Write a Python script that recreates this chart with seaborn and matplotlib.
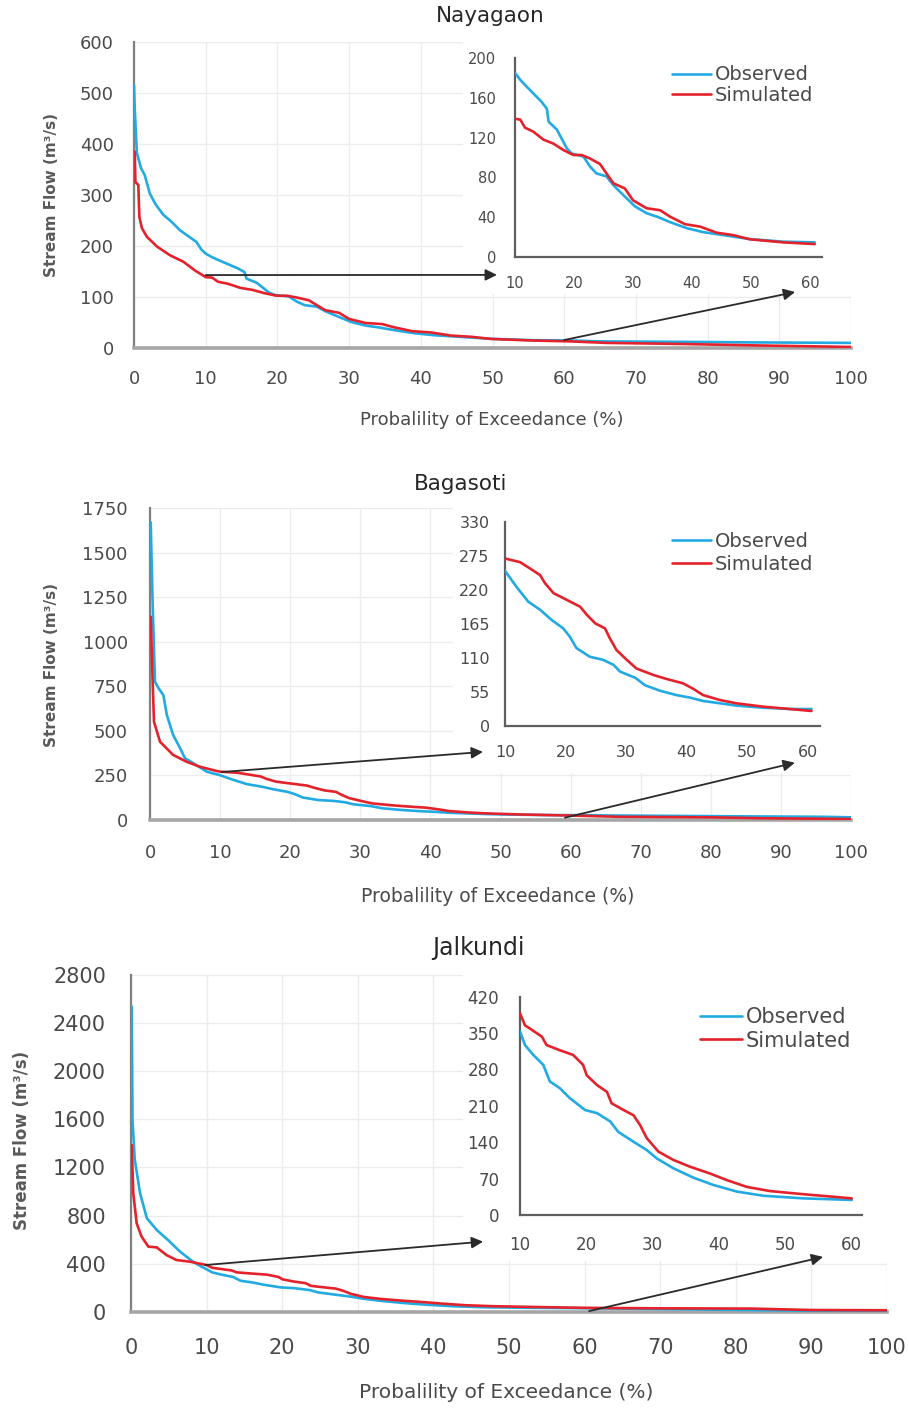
import numpy as np
import pandas as pd
import matplotlib
matplotlib.use("Agg")
import matplotlib.pyplot as plt
import seaborn as sns
from matplotlib.patches import Rectangle

# ---------------- data ----------------
stations = ["Nayagaon", "Bagasoti", "Jalkundi"]
series_names = ["Observed", "Simulated"]

nay_obs_x = [0, 0.1, 0.4, 1.0, 1.5, 2.2, 3.0, 4.1, 5.2, 6.4, 7.5, 8.7, 9.4, 10, 10.9, 12.5, 14.5, 15.4, 15.7,
             17.1, 18.8, 19.6, 21.6, 22.7, 23.8, 25.5, 26.7, 28.4, 30.3, 32.3, 34.3, 36.3, 39.1, 41.9, 45.3,
             49.8, 55.5, 60.8, 65, 77, 86, 100]
nay_obs_y = [515, 470, 382, 352, 339, 303, 282, 261, 248, 231, 220, 208, 193, 185, 178, 168, 156, 149, 136,
             128, 109, 104, 101, 91, 84, 81, 72, 62, 51, 44, 40, 35, 29, 25, 22,
             18, 15.4, 14.7, 13, 12, 11, 10]
nay_sim_x = [0.1, 0.2, 0.6, 0.75, 1.1, 1.8, 3.2, 5.0, 6.9, 8.5, 10, 10.9, 11.7, 13.1, 14.8, 16.5, 18.2, 19.9,
             21.3, 22.7, 24.4, 25.5, 26.7, 28.6, 30.0, 32.3, 34.6, 36.3, 38.8, 41.4, 44.2, 47.0, 49.8, 55.5,
             60.8, 66, 76, 87, 96, 100]
nay_sim_y = [385, 325, 320, 257, 235, 218, 199, 182, 169, 152, 139, 138, 130, 126, 118, 114, 107.5, 102.5,
             102.5, 99, 93.5, 84, 74, 69, 57, 49, 47, 40.5, 33, 30.5, 24.4, 22, 17.8, 14.7,
             13, 10, 8, 5, 3, 2]

bag_obs_x = [0.1, 0.38, 0.71, 1.2, 1.9, 2.4, 3.3, 4.3, 5.0, 6.2, 8.1, 10, 11.9, 13.85, 15.8, 17.7, 19.6, 20.7,
             21.8, 24.0, 26.2, 27.9, 29.0, 31.5, 33.1, 35.6, 38.3, 40.5, 42.7, 45.5, 48.2, 52.6, 57.0, 60.6,
             67, 79, 86, 96, 100]
bag_obs_y = [1670, 1206, 776, 740, 701, 589, 477, 402, 346, 318, 271, 251, 225, 201, 188, 171.5, 158, 144.5,
             126, 112, 107, 99, 88, 78, 66, 57, 50, 46, 40.5, 36.7, 33, 29.6, 27.5, 27.5,
             25, 22, 20, 18, 15]
bag_sim_x = [0.1, 0.38, 0.57, 1.43, 3.3, 5.2, 7.1, 9.5, 10, 12.5, 14.1, 15.8, 16.6, 18.0, 20.2, 22.4, 23.5,
             24.9, 26.5, 27.3, 28.4, 30.1, 31.7, 34.5, 36.7, 39.4, 41.1, 42.7, 45.5, 48.2, 52.6, 57.0, 60.6,
             67, 80, 87, 96, 100]
bag_sim_y = [1140, 776, 551, 439, 365, 327, 299, 275, 271, 265, 255, 244, 231, 215, 204, 193, 180,
             166, 158, 142, 123, 107, 93, 82.5, 76, 69, 60, 50, 42, 36.7, 31.3, 27.5, 24.3,
             18, 15, 10, 7, 5]

jal_obs_x = [0.1, 0.2, 0.5, 1.2, 2.1, 3.4, 4.9, 6.5, 8.2, 9.3, 10, 10.75, 12.0, 13.5, 14.5, 16.0, 17.5, 19.8,
             21.6, 23.6, 24.8, 27.1, 29.1, 30.6, 33.1, 36.1, 39.1, 42.7, 46.7, 52.7, 60.0, 70, 80, 90, 100]
jal_obs_y = [2536, 1594, 1262, 985, 777, 680, 596, 499, 416, 375, 353, 327, 308, 289, 257, 244, 225, 202,
             196, 180, 160, 141, 125, 109, 90, 72, 58, 45, 37, 32, 29, 22, 15, 8, 5]
jal_sim_x = [0.1, 0.3, 0.75, 1.4, 2.3, 3.4, 4.7, 6.0, 7.8, 10, 10.75, 12.5, 13.3, 14.0, 16.0, 18.0, 19.5,
             20.05, 21.6, 23.1, 23.8, 25.6, 27.1, 28.1, 29.1, 30.85, 33.1, 35.6, 38.6, 41.2, 44.2, 47.7,
             52.7, 60.0, 70, 82, 90, 100]
jal_sim_y = [1386, 985, 735, 624, 541, 535, 471, 430, 416, 388, 365, 350, 343, 327, 317, 308, 289,
             269, 250, 237, 215, 202, 192, 173, 148, 122, 106, 93, 80, 67, 54, 46,
             40, 32, 28, 26, 14, 12]

main_xticks = [0, 10, 20, 30, 40, 50, 60, 70, 80, 90, 100]
inset_xticks = [10, 20, 30, 40, 50, 60]
main_yticks = [[0, 100, 200, 300, 400, 500, 600],
               [0, 250, 500, 750, 1000, 1250, 1500, 1750],
               [0, 400, 800, 1200, 1600, 2000, 2400, 2800]]
inset_yticks = [[0, 40, 80, 120, 160, 200],
                [0, 55, 110, 165, 220, 275, 330],
                [0, 70, 140, 210, 280, 350, 420]]

data = [
    (nay_obs_x, nay_obs_y, nay_sim_x, nay_sim_y),
    (bag_obs_x, bag_obs_y, bag_sim_x, bag_sim_y),
    (jal_obs_x, jal_obs_y, jal_sim_x, jal_sim_y),
]

# ---------------- style / layout ----------------
sns.set_theme(style="white")
plt.rcParams['font.family'] = ['DejaVu Sans']

W, H = 909, 1408
fig = plt.figure(figsize=(W / 100, H / 100), dpi=100)


def fx(px):
    return px / W


def fy(py):
    return 1 - py / H


BLUE = "#22aae2"
RED = "#e4222b"
TXT = "#4a4a4a"

layout = [
    dict(main=(134, 42, 851, 348), inset=(515, 58, 821.8, 257), ixmax=62,
         title=(490, 16), tfs=15.5, xlab=(492, 420), xfs=13, ylab=(52, 195), yfs=11,
         tick_fs=13, ypad=14.5, xpad=16, itick_fs=10.5, iypad=13.5, ixpad=13.5,
         leg=(672, 65.5), lfs=14, lsp=0.07,
         rect=(0.459, 0.175),
         arr1=((10, 143), (-0.059, -0.09)), arr2=((60, 15.7), (0.913, -0.176))),
    dict(main=(150, 508, 851, 820), inset=(505, 522, 820, 726), ixmax=62,
         title=(461, 484), tfs=15.5, xlab=(498, 897), xfs=13.5, ylab=(52, 665), yfs=11,
         tick_fs=13, ypad=16, xpad=17, itick_fs=11.5, iypad=11, ixpad=13.5,
         leg=(672, 532), lfs=14, lsp=0.22,
         rect=(0.432, 0.15),
         arr1=((10.2, 269), (-0.07, -0.127)), arr2=((59.2, 13), (0.92, -0.18))),
    dict(main=(131, 975, 887, 1311.7), inset=(520, 996.7, 861.7, 1215), ixmax=61.5,
         title=(478, 948), tfs=17, xlab=(506, 1393), xfs=14.5, ylab=(22, 1140), yfs=12,
         tick_fs=15, ypad=18, xpad=19, itick_fs=12, iypad=15, ixpad=15,
         leg=(700, 1007), lfs=15, lsp=0.17,
         rect=(0.439, 0.15),
         arr1=((9.8, 388), (-0.108, -0.122)), arr2=((60.6, 5), (0.887, -0.192))),
]

for i, (cfg, (ox, oy, sx, sy)) in enumerate(zip(layout, data)):
    l, t, r, b = cfg["main"]
    ax = fig.add_axes([fx(l), fy(b), fx(r) - fx(l), fy(t) - fy(b)])
    df = pd.concat([
        pd.DataFrame({"x": ox, "y": oy, "s": series_names[0]}),
        pd.DataFrame({"x": sx, "y": sy, "s": series_names[1]}),
    ])
    sns.lineplot(data=df, x="x", y="y", hue="s", palette=[BLUE, RED], estimator=None,
                 sort=False, lw=1.9, ax=ax, legend=False, zorder=3)
    yt = main_yticks[i]
    ax.set_xlim(0, 100)
    ax.set_ylim(0, yt[-1])
    ax.set_xticks(main_xticks)
    ax.set_yticks(yt)
    ax.set_xlabel("")
    ax.set_ylabel("")
    ax.grid(True, color="#ececec", lw=1)
    ax.set_axisbelow(True)
    ax.tick_params(length=0, labelsize=cfg["tick_fs"], colors=TXT)
    ax.tick_params(axis="y", pad=cfg["ypad"])
    ax.tick_params(axis="x", pad=cfg["xpad"])
    for s in ["top", "right"]:
        ax.spines[s].set_visible(False)
    ax.spines["left"].set_color("#808080")
    ax.spines["left"].set_linewidth(1.6)
    ax.spines["bottom"].set_color("#a6a6a6")
    ax.spines["bottom"].set_linewidth(2.6)
    rx, ry = cfg["rect"]
    ax.add_patch(Rectangle((rx, ry), 1.05 - rx, 1.05 - ry, transform=ax.transAxes,
                           facecolor="white", edgecolor="none", zorder=1, clip_on=False))

    # inset
    il, it, ir, ib = cfg["inset"]
    axi = fig.add_axes([fx(il), fy(ib), fx(ir) - fx(il), fy(it) - fy(ib)])
    axi.set_facecolor("none")
    dfi = df[(df["x"] >= 10) & (df["x"] <= 61)]
    sns.lineplot(data=dfi, x="x", y="y", hue="s", palette=[BLUE, RED], estimator=None,
                 sort=False, lw=1.9, ax=axi, legend=False, zorder=3)
    iyt = inset_yticks[i]
    axi.set_xlim(10, cfg["ixmax"])
    axi.set_ylim(0, iyt[-1])
    axi.set_xticks(inset_xticks)
    axi.set_yticks(iyt)
    axi.set_xlabel("")
    axi.set_ylabel("")
    axi.grid(False)
    axi.tick_params(length=0, labelsize=cfg["itick_fs"], colors=TXT)
    axi.tick_params(axis="y", pad=cfg["iypad"])
    axi.tick_params(axis="x", pad=cfg["ixpad"])
    for s in ["top", "right"]:
        axi.spines[s].set_visible(False)
    for s in ["left", "bottom"]:
        axi.spines[s].set_color("#5f5f5f")
        axi.spines[s].set_linewidth(1.6)

    handles = axi.get_lines()[:2]
    lg = axi.legend(handles, series_names, loc="upper left",
                    bbox_to_anchor=(fx(cfg["leg"][0]), fy(cfg["leg"][1])),
                    bbox_transform=fig.transFigure, frameon=False, handlelength=2.0,
                    handletextpad=0.2, labelspacing=cfg["lsp"], borderpad=0, borderaxespad=0,
                    fontsize=cfg["lfs"], labelcolor=TXT)

    # zoom arrows
    for key in ("arr1", "arr2"):
        (sxy, exy) = cfg[key]
        ax.annotate("", xy=exy, xycoords=axi.transAxes, xytext=sxy, textcoords="data",
                    arrowprops=dict(arrowstyle="-|>", color="#2a2a2a", lw=1.3,
                                    mutation_scale=17, shrinkA=0, shrinkB=0),
                    annotation_clip=False, zorder=4)

    # texts
    fig.text(fx(cfg["title"][0]), fy(cfg["title"][1]), stations[i], ha="center", va="center",
             fontsize=cfg["tfs"], color="#262626")
    fig.text(fx(cfg["xlab"][0]), fy(cfg["xlab"][1]), "Probalility of Exceedance (%)",
             ha="center", va="center", fontsize=cfg["xfs"], color=TXT)
    fig.text(fx(cfg["ylab"][0]), fy(cfg["ylab"][1]), "Stream Flow (m³/s)", rotation=90,
             ha="center", va="center", fontsize=cfg["yfs"], fontweight="bold", color="#595959")

fig.savefig("out.png", dpi=100)
